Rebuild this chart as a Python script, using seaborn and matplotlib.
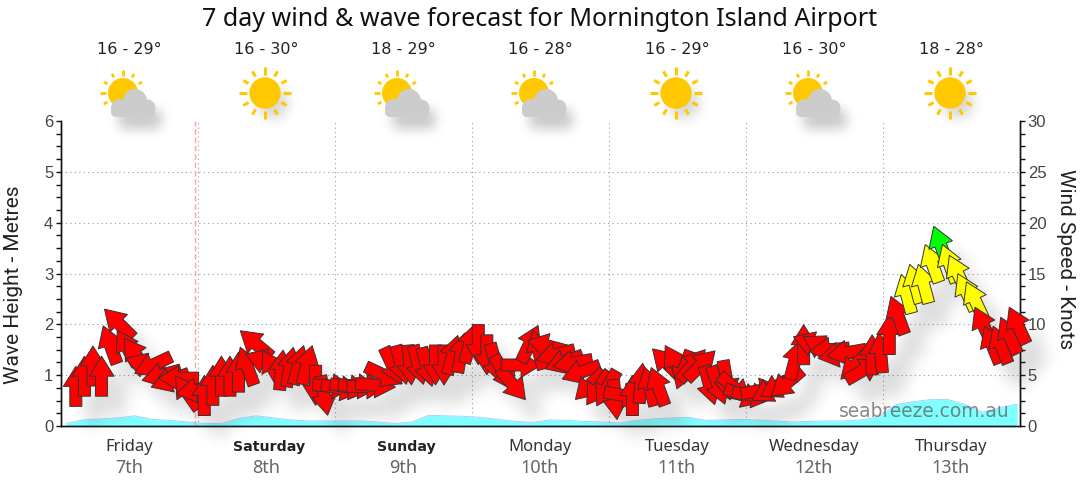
#Import libraries
import numpy as np
import pandas as pd
import seaborn as sns
import matplotlib
matplotlib.use('Agg')
import matplotlib.pyplot as plt
from matplotlib.markers import MarkerStyle
from matplotlib.path import Path
from matplotlib.patches import Circle, FancyBboxPatch
from matplotlib.transforms import Affine2D

title = '7 day wind & wave forecast for Mornington Island Airport'
days = ['Friday', 'Saturday', 'Sunday', 'Monday', 'Tuesday', 'Wednesday', 'Thursday']
dates = ['7th', '8th', '9th', '10th', '11th', '12th', '13th']
bold_days = ['Saturday', 'Sunday']
temps = ['16 - 29°', '16 - 30°', '18 - 29°', '16 - 28°', '16 - 29°', '16 - 30°', '18 - 28°']
cloudy = [True, False, True, True, False, True, False]

#Wind, one arrow every 1.5 hours: speed in knots, bearing the arrow points to
wind_knots = [3.9, 4.9, 5.9, 4.9, 8.0, 10.1, 7.7, 7.0, 6.0, 6.0, 5.0, 4.5, 4.7, 3.3, 3.5, 3.0,
              4.0, 4.9, 4.9, 5.3, 5.9, 8.1, 6.4, 5.7, 5.5, 5.8, 6.0, 6.0, 4.0, 3.0, 3.9, 3.7,
              3.8, 3.9, 3.9, 4.0, 5.0, 5.9, 6.0, 6.0, 6.0, 5.8, 6.0, 6.0, 7.0, 7.2, 8.1, 8.0,
              7.0, 6.2, 5.2, 4.1, 6.0, 8.1, 7.5, 7.9, 7.0, 6.3, 6.2, 5.3, 4.0, 3.7, 3.7, 2.6,
              3.0, 3.0, 4.2, 3.9, 3.9, 6.2, 6.2, 5.5, 6.0, 6.0, 4.0, 4.0, 4.5, 3.7, 3.0, 3.0,
              3.5, 3.5, 3.9, 4.2, 6.5, 8.0, 8.1, 7.8, 7.5, 7.0, 7.2, 6.0, 5.5, 7.0, 7.2, 9.0,
              10.9, 13.0, 14.0, 14.0, 16.0, 17.8, 16.0, 15.0, 13.2, 12.4, 9.9, 8.0, 8.0, 8.9, 9.9]
wind_bearing = [0, 0, 0, 0, -20, -45, -30, -35, -70, -115, -105, -110, -90, -35, -100, 0,
                0, 0, 0, 0, -20, -50, -70, -30, 5, 10, 15, 15, 180, 170, 95, 100,
                100, 95, 90, 95, 115, 155, 165, 175, 165, 165, 180, 180, 15, 10, 15, 180,
                180, 165, 150, 140, 90, 25, -15, -75, -105, -110, -100, -110, -135, -145, -150, 175,
                100, 0, 5, -15, -20, -45, -30, -160, 40, 45, 165, 160, 170, 130, 110, 100,
                80, -120, -120, -130, 15, 0, -70, -60, -95, -100, -100, -135, 60, 0, -5, 0,
                -20, -15, -15, -15, -20, -20, -20, -25, -25, -25, -25, -22, -22, -25, -25]

#Wave height in metres, one value every 3 hours
wave_metres = [0.05, 0.12, 0.14, 0.16, 0.20, 0.13, 0.11, 0.08, 0.05, 0.05, 0.15, 0.20, 0.16, 0.12,
               0.10, 0.10, 0.10, 0.10, 0.08, 0.05, 0.08, 0.21, 0.20, 0.19, 0.17, 0.13, 0.09, 0.07,
               0.12, 0.11, 0.09, 0.08, 0.06, 0.11, 0.14, 0.16, 0.17, 0.11, 0.12, 0.13, 0.12, 0.10,
               0.08, 0.09, 0.10, 0.10, 0.12, 0.18, 0.42, 0.48, 0.52, 0.52, 0.42, 0.27, 0.36, 0.43]

W, H = 1080, 490
LEFT, RIGHT, TOP, BOTTOM = 61, 1020, 121, 426
TEXT_FONT = ['Noto Sans', 'DejaVu Sans']
ARROW_SIZE = 829
SUN = '#ffc800'
CLOUD = '#cccccc'

#Arrow pointing up, rotated once per bearing
arrow = Path([(0, 20), (12.5, 0), (6, 0), (6, -20), (-6, -20), (-6, 0), (-12.5, 0), (0, 20)], closed=True)
arrow_markers = {b: MarkerStyle(arrow, transform=Affine2D().rotate_deg(-b)) for b in set(wind_bearing)}


def blur_line(a, size):
    kernel = np.ones(size) / size
    return np.convolve(a, kernel, mode='same')


#Agg filter: soft grey shadow shifted right and down
def soft_shadow(dx, dy, blur, strength):
    def process(im, dpi):
        pad = blur * 3 + max(dx, dy)
        alpha = np.pad(im[:, :, 3], pad)
        for _ in range(3):
            alpha = np.apply_along_axis(blur_line, 0, alpha, blur)
            alpha = np.apply_along_axis(blur_line, 1, alpha, blur)
        alpha = np.roll(np.roll(alpha, dx, axis=1), dy, axis=0)
        out = np.zeros(alpha.shape + (4,))
        out[:, :, :3] = 0.25
        out[:, :, 3] = alpha * strength
        return out, -pad, -pad
    return process


def wind_class(k):
    if k < 11.5:
        return 'red'
    if k < 17:
        return 'yellow'
    return 'lime'


sns.set_style('white')
fig = plt.figure(figsize=(W / 100, H / 100), dpi=100)
ax = fig.add_axes([LEFT / W, 1 - BOTTOM / H, (RIGHT - LEFT) / W, (BOTTOM - TOP) / H])
ax2 = ax.twinx()

#Wave area
wave = pd.DataFrame({'hour': 0.85 + 3.03 * np.arange(len(wave_metres)), 'metres': wave_metres})
ax.fill_between(wave['hour'], wave['metres'], color='#80ffff', lw=0, zorder=2)
sns.lineplot(data=wave, x='hour', y='metres', color='#a8d4ff', lw=0.7, ax=ax, zorder=3)
ax.set_xlim(0, 168)
ax.set_ylim(0, 6)
ax.set_xlabel('')
ax.set_ylabel('')

#Grid
ax.set_xticks(np.arange(0, 169, 24))
ax.set_xticks(np.arange(0, 169, 6), minor=True)
ax.set_yticks(np.arange(0, 7))
ax.set_yticks(np.arange(0, 6.01, 0.25), minor=True)
ax.grid(True, which='major', ls=(0, (1, 3)), color='#999999', lw=0.8, zorder=1)
ax.yaxis.get_gridlines()[-1].set_visible(False)
ax.set_axisbelow(True)
ax.axvline(23.4, color='#ffa0a0', ls=(0, (4, 2)), lw=1, zorder=2)

#Wind arrows
wind = pd.DataFrame({'hour': 2.6 + 1.5 * np.arange(len(wind_knots)), 'knots': wind_knots, 'bearing': wind_bearing})
wind['level'] = wind['knots'].map(wind_class)
sns.scatterplot(data=wind, x='hour', y='knots', style='bearing', markers=arrow_markers, color='#555555',
                s=ARROW_SIZE, linewidth=0, legend=False, ax=ax2, clip_on=False, zorder=3)
ax2.collections[-1].set_agg_filter(soft_shadow(7, 9, 10, 0.42))
sns.scatterplot(data=wind, x='hour', y='knots', style='bearing', markers=arrow_markers, hue='level',
                palette={'red': '#ff0000', 'yellow': '#ffff00', 'lime': '#00ff00'},
                s=ARROW_SIZE, edgecolor='#333333', linewidth=0.7, legend=False, ax=ax2, clip_on=False, zorder=4)
ax2.set_ylim(0, 30)
ax2.set_yticks(np.arange(0, 31, 5))
ax2.set_yticks(np.arange(0, 30.01, 1.25), minor=True)
ax2.set_xlabel('')
ax2.set_ylabel('')
ax2.grid(False)

#Axis styling
for a in [ax, ax2]:
    a.tick_params(axis='y', which='both', length=3.6, width=1, color='#111111', labelsize=12, pad=2, labelcolor='#444444')
    for lab in a.get_yticklabels():
        lab.set_family('Liberation Sans')
    for side, sp in a.spines.items():
        sp.set_visible(side in ('left', 'right', 'bottom'))
        sp.set_color('#111111')
        sp.set_linewidth(1)
ax.spines['bottom'].set_color('#0b1f4d')
ax.tick_params(axis='x', which='major', length=5.8, width=1, color='#111111', labelbottom=False)
ax.tick_params(axis='x', which='minor', length=2.9, width=1, color='#111111')
ax.set_zorder(1)
ax2.set_zorder(2)
ax2.patch.set_visible(False)

#Overlay in pixel coordinates for the header and day labels
top = fig.add_axes([0, 0, 1, 1], zorder=5)
top.set_xlim(0, W)
top.set_ylim(H, 0)
top.axis('off')
top.text(540, 20, title, ha='center', va='center', fontsize=18.05, family=TEXT_FONT, color='#111111')
top.text(13.5, 285, 'Wave Height - Metres', rotation=90, ha='center', va='center', fontsize=15,
         family='Roboto', color='#222222')
top.text(1066, 259, 'Wind Speed - Knots', rotation=270, ha='center', va='center', fontsize=15,
         family='Roboto', color='#222222')
top.text(1010, 411, 'seabreeze.com.au', ha='right', va='center', fontsize=13.4,
         family='DejaVu Sans', color='#555555', alpha=0.7)


def draw_cloud(cx, cy, color, z):
    shapes = [Circle((cx + 6, cy + 8), 12, color=color, lw=0, zorder=z),
              Circle((cx - 9, cy + 15), 9, color=color, lw=0, zorder=z),
              Circle((cx + 18, cy + 15), 8.5, color=color, lw=0, zorder=z),
              FancyBboxPatch((cx - 18, cy + 13), 44, 11, boxstyle='round,pad=0,rounding_size=5.5',
                             color=color, lw=0, zorder=z)]
    return [top.add_patch(s) for s in shapes]


def draw_rays(sx, sy, angles, inner, outer, lw):
    for ang in angles:
        t = np.radians(ang)
        grow = 0 if ang % 90 == 0 else 1
        top.plot([sx + (inner + grow) * np.sin(t), sx + (outer - grow) * np.sin(t)],
                 [sy - (inner + grow) * np.cos(t), sy - (outer - grow) * np.cos(t)],
                 color=SUN, lw=lw, solid_capstyle='butt', zorder=3)


def draw_icon(cx, cy, has_cloud):
    if has_cloud:
        draw_rays(cx - 6, cy, np.arange(-120, 61, 30), 17, 23, 2)
        top.add_patch(Circle((cx - 6, cy), 15, color=SUN, lw=0, zorder=3))
        shadow = top.add_patch(FancyBboxPatch((cx - 18, cy + 4), 44, 20, boxstyle='round,pad=0,rounding_size=8',
                                              color='#666666', lw=0, zorder=2))
        shadow.set_agg_filter(soft_shadow(7, 12, 11, 0.28))
        draw_cloud(cx, cy, CLOUD, 4)
    else:
        sx = cx - 1
        draw_rays(sx, cy, np.arange(0, 360, 30), 18, 26, 2.2)
        shadow = top.add_patch(Circle((sx, cy), 15.7, color='#666666', lw=0, zorder=2))
        shadow.set_agg_filter(soft_shadow(8, 10, 11, 0.2))
        top.add_patch(Circle((sx, cy), 15.7, color=SUN, lw=0, zorder=3))


for i in range(7):
    cx = 129 + 137 * i
    top.text(cx, 50, temps[i], ha='center', va='center', fontsize=11.5, family='DejaVu Sans', color='#222222')
    draw_icon(cx, 93, cloudy[i])
    if days[i] in bold_days:
        top.text(cx + 3, 447, days[i], ha='center', va='center', fontsize=10.2, family='DejaVu Sans',
                 fontweight='bold', color='#222222')
    else:
        top.text(cx, 447, days[i], ha='center', va='center', fontsize=12, family=TEXT_FONT, color='#333333')
    top.text(cx, 468, dates[i], ha='center', va='center', fontsize=13, family=TEXT_FONT, color='#666666')

fig.savefig('out.png', dpi=100)
